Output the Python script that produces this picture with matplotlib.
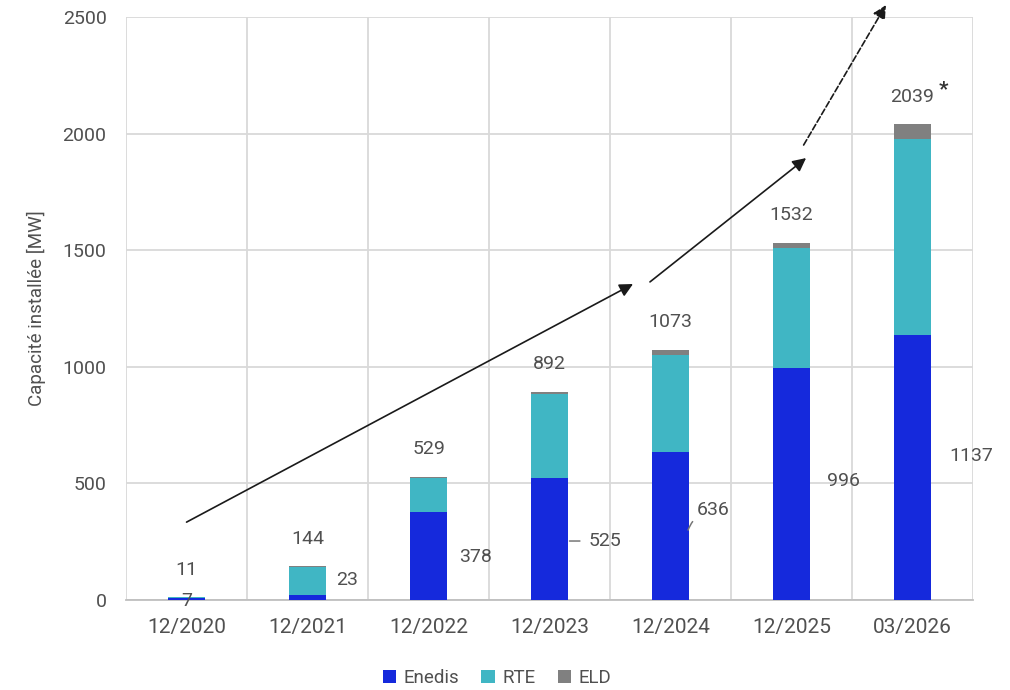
import numpy as np
import matplotlib
matplotlib.use("Agg")
import matplotlib.pyplot as plt

plt.rcParams['font.family'] = ['Roboto', 'DejaVu Sans']

periods = ["12/2020", "12/2021", "12/2022", "12/2023", "12/2024", "12/2025", "03/2026"]
enedis = [7, 23, 378, 525, 636, 996, 1137]
rte = [4, 118, 146, 360, 416, 514, 838]
eld = [0, 3, 5, 7, 21, 22, 64]
totals = [11, 144, 529, 892, 1073, 1532, 2039]

# where the Enedis value labels sit (x offset from bar centre, y in MW)
enedis_lab_dx = [0.0, 0.24, 0.255, 0.32, 0.22, 0.29, 0.30]
enedis_lab_y = [-4, 86, 184, 253, 386, 510, 617]

# trend arrows (start, end, style)
arrows = [((0.0, 334), (3.69, 1355), '-'),
          ((3.83, 1364), (5.12, 1895), '-'),
          ((5.10, 1951), (5.78, 2551), '--')]

c_enedis = "#1529dc"
c_rte = "#40b6c4"
c_eld = "#808080"
txt = "#505050"
grid = "#d9d9d9"

fig = plt.figure(figsize=(10.1, 6.9), dpi=100)
ax = fig.add_axes([0.1248, 0.1304, 0.8386, 0.845])

x = np.arange(len(periods))
w = 0.31
ax.bar(x, enedis, w, color=c_enedis, label="Enedis", zorder=3)
ax.bar(x, rte, w, bottom=enedis, color=c_rte, label="RTE", zorder=3)
ax.bar(x, eld, w, bottom=np.array(enedis) + np.array(rte), color=c_eld, label="ELD", zorder=3)

ax.set_xlim(-0.5, len(periods) - 0.5)
ax.set_ylim(0, 2500)
ax.set_yticks(np.arange(0, 2501, 500))
ax.set_xticks(x)
ax.set_xticklabels(periods)
ax.set_xticks(np.arange(-0.5, len(periods), 1), minor=True)
ax.grid(False)
ax.xaxis.grid(True, which='minor', color=grid, lw=1.3, zorder=0)
ax.yaxis.grid(True, which='major', color=grid, lw=1.3, zorder=0)
ax.tick_params(which='both', length=0)
ax.tick_params(axis='x', labelsize=15, colors=txt, pad=13)
ax.tick_params(axis='y', labelsize=14, colors=txt, pad=14)
for s in ['top', 'right', 'left']:
    ax.spines[s].set_visible(False)
ax.spines['bottom'].set_color("#bfbfbf")
ax.spines['bottom'].set_linewidth(1.3)
ax.set_ylabel("Capacité installée [MW]", fontsize=13.5, color=txt, labelpad=12)

for i, t in enumerate(totals):
    ax.annotate(str(t), xy=(i, t), xytext=(0, 20), textcoords='offset points',
                ha='center', va='center', fontsize=14, color=txt, zorder=5)
ax.annotate("*", xy=(6, totals[6]), xytext=(22, 25), textcoords='offset points',
            ha='center', va='center', fontsize=15, fontweight='bold', color="#333333", zorder=5)

for i, v in enumerate(enedis):
    dx = enedis_lab_dx[i]
    if i == 0:
        ax.text(i, enedis_lab_y[i], str(v), ha='center', va='center', fontsize=14, color=txt, zorder=5)
    elif i == 3:
        ax.annotate(str(v), xy=(i + w / 2 + 0.01, enedis_lab_y[i]), xytext=(i + dx, enedis_lab_y[i]),
                    ha='left', va='center', fontsize=14, color=txt, zorder=5,
                    arrowprops=dict(arrowstyle='-', color='#777777', lw=1.1, shrinkA=4, shrinkB=0))
    elif i == 4:
        ax.annotate(str(v), xy=(i + w / 2 - 0.01, 300), xytext=(i + dx, enedis_lab_y[i]),
                    ha='left', va='center', fontsize=14, color=txt, zorder=5,
                    arrowprops=dict(arrowstyle='-', color='#777777', lw=1.1, shrinkA=2, shrinkB=0,
                                    connectionstyle='arc3,rad=0.3'))
    else:
        ax.text(i + dx, enedis_lab_y[i], str(v), ha='left', va='center', fontsize=14, color=txt, zorder=5)

for (x0, y0), (x1, y1), ls in arrows:
    ax.annotate("", xy=(x1, y1), xytext=(x0, y0), annotation_clip=False, zorder=6,
                arrowprops=dict(arrowstyle='-|>', color='#1a1a1a', lw=1.2, linestyle=ls,
                                mutation_scale=20, shrinkA=0, shrinkB=0))

leg = fig.legend(loc='center', bbox_to_anchor=(0.492, 0.017), ncol=3, frameon=False,
                 fontsize=13.5, handlelength=0.7, handleheight=0.7, handletextpad=0.4,
                 columnspacing=1.2, labelcolor=txt)

fig.savefig("out.png", dpi=100)
